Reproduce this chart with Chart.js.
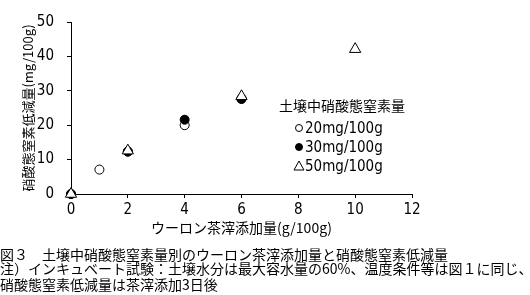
<!DOCTYPE html>
<html><head><meta charset="utf-8">
<script src="https://cdn.jsdelivr.net/npm/chart.js@4.4.1/dist/chart.umd.min.js"></script>
<style>
html,body{margin:0;padding:0;background:#fff;}
#wrap{position:relative;width:530px;height:295px;overflow:hidden;}
canvas{position:absolute;left:0;top:0;}
.cap{position:absolute;left:0;font-family:"Noto Sans CJK JP";font-size:14px;line-height:14px;color:#000;white-space:nowrap;}
</style></head>
<body><div id="wrap"><canvas id="c" width="530" height="295"></canvas>
<div class="cap" style="top:247px">図３　土壌中硝酸態窒素量別のウーロン茶滓添加量と硝酸態窒素低減量</div>
<div class="cap" style="top:261px">注）インキュベート試験：土壌水分は最大容水量の60%、温度条件等は図１に同じ、</div>
<div class="cap" style="top:277px">硝酸態窒素低減量は茶滓添加3日後</div>
</div>
<script>
const seriesNames = ["20mg/100g", "30mg/100g", "50mg/100g"];
const legendTitle = "土壌中硝酸態窒素量";
const xTitle = "ウーロン茶滓添加量(g/100g)";
const yTitle = "硝酸態窒素低減量(mg/100g)";
const x20 = [0, 1, 2, 4, 6];
const y20 = [0, 7.1, 12.4, 20.0, 27.8];
const x30 = [0, 2, 4, 6];
const y30 = [0, 12.3, 21.6, 27.6];
const x50 = [0, 2, 6, 10];
const y50 = [0, 12.6, 28.4, 42.1];
const xTicks = [0, 2, 4, 6, 8, 10, 12];
const yTicks = [0, 10, 20, 30, 40, 50];

const pts = (xs, ys) => xs.map((x, i) => ({x: x, y: ys[i]}));
const tickFont = {family: "'Liberation Sans Narrow','DejaVu Sans Condensed',sans-serif", size: 15};

const legendPlugin = {
  id: 'customLegend',
  afterDraw(chart) {
    const ctx = chart.ctx;
    ctx.save();
    ctx.fillStyle = '#000';
    ctx.font = "14px 'Noto Sans CJK JP'";
    ctx.textAlign = 'center';
    ctx.textBaseline = 'middle';
    ctx.fillText(legendTitle, 342, 106);
    const ys = [128, 147, 166];
    chart.data.datasets.forEach((ds, i) => {
      const y = ys[i];
      ctx.lineWidth = 1;
      ctx.strokeStyle = '#000';
      ctx.fillStyle = ds.pointBackgroundColor;
      ctx.beginPath();
      if (ds.pointStyle === 'triangle') {
        ctx.moveTo(299, y - 5); ctx.lineTo(304, y + 4); ctx.lineTo(294, y + 4); ctx.closePath();
      } else {
        ctx.arc(299, y, 3.5, 0, Math.PI * 2);
      }
      ctx.fill(); ctx.stroke();
      ctx.fillStyle = '#000';
      ctx.font = "15px 'Liberation Sans Narrow','DejaVu Sans Condensed',sans-serif";
      ctx.textAlign = 'left';
      ctx.fillText(ds.label, 305, y + 1);
    });
    ctx.restore();
  }
};

new Chart(document.getElementById('c'), {
  type: 'scatter',
  data: {
    datasets: [
      {label: seriesNames[0], data: pts(x20, y20), pointStyle: 'circle', pointRadius: 4.5, pointBackgroundColor: '#fff', borderColor: '#000', pointBorderColor: '#000', borderWidth: 1, order: 3},
      {label: seriesNames[1], data: pts(x30, y30), pointStyle: 'circle', pointRadius: 4.5, pointBackgroundColor: '#000', borderColor: '#000', pointBorderColor: '#000', borderWidth: 1, order: 2},
      {label: seriesNames[2], data: pts(x50, y50), pointStyle: 'triangle', pointRadius: 6.5, pointBackgroundColor: '#fff', borderColor: '#000', pointBorderColor: '#000', borderWidth: 1, order: 1}
    ]
  },
  options: {
    responsive: false,
    animation: false,
    clip: false,
    layout: {padding: {left: 0, right: 118, top: 11, bottom: 51}},
    plugins: {legend: {display: false}, tooltip: {enabled: false}},
    scales: {
      x: {
        type: 'linear', min: 0, max: 12,
        afterBuildTicks: s => { s.ticks = xTicks.map(v => ({value: v})); },
        afterFit: s => { s.height = 50; },
        border: {color: '#000', width: 1},
        grid: {drawOnChartArea: false, color: '#000', tickLength: 4},
        ticks: {color: '#000', font: tickFont, padding: 3, maxRotation: 0},
        title: {display: true, text: xTitle, color: '#000', font: {family: "'Noto Sans CJK JP'", size: 14}, padding: {top: 0, bottom: 8}}
      },
      y: {
        type: 'linear', min: 0, max: 50,
        afterBuildTicks: s => { s.ticks = yTicks.map(v => ({value: v})); },
        afterFit: s => { s.width = 71; },
        border: {color: '#000', width: 1},
        grid: {drawOnChartArea: false, color: '#000', tickLength: 4},
        ticks: {color: '#000', font: tickFont, padding: 13},
        title: {display: true, text: yTitle, color: '#000', font: {family: "'Noto Sans CJK JP'", size: 13}, padding: {top: 20, bottom: 0}}
      }
    }
  },
  plugins: [legendPlugin]
});
</script></body></html>
